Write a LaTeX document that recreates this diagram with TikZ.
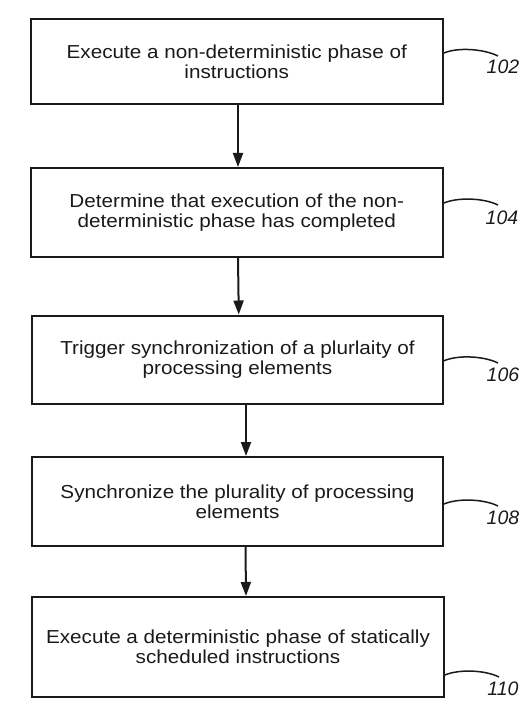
\documentclass[tikz,border=0pt]{standalone}
\usepackage{fontspec}
\newfontfamily\boxfont{Liberation Sans}[FakeStretch=1.1]
\newfontfamily\labfont{Liberation Sans}
\usetikzlibrary{arrows.meta}
\definecolor{ink}{HTML}{1A1A1A}
\tikzset{
  stepbox/.style={draw=ink, line width=2pt, fill=white, inner sep=0pt, align=center,
    text=ink, font=\boxfont\fontsize{18.8}{20}\selectfont},
  flow/.style={draw=ink, line width=2pt, -{Triangle[length=14pt,width=10pt]}},
  lead/.style={draw=ink, line width=1.5pt},
  reflab/.style={inner sep=0pt, text=ink, font=\labfont\itshape\fontsize{19.5}{20}\selectfont}
}
\begin{document}
\begin{tikzpicture}[x=1pt,y=-1pt]
\useasboundingbox (0,0) rectangle (531,722);
\node[stepbox, minimum width=412.5pt, minimum height=85pt] (b1) at (236.75,61.5)
  {Execute a non-deterministic phase of\\instructions};
\node[stepbox, minimum width=412.5pt, minimum height=89pt] (b2) at (236.75,212.5)
  {Determine that execution of the non-\\deterministic phase has completed};
\node[stepbox, minimum width=411pt, minimum height=88.5pt] (b3) at (237.5,359.75)
  {Trigger synchronization of a plurlaity of\\processing elements};
\node[stepbox, minimum width=411pt, minimum height=89pt] (b4) at (237.5,501.5)
  {Synchronize the plurality of processing\\elements};
\node[stepbox, minimum width=412pt, minimum height=100pt] (b5) at (238,647)
  {Execute a deterministic phase of statically\\scheduled instructions};

\draw[flow] ([xshift=1.25pt]b1.south) -- ([xshift=1.25pt]b2.north);
\draw[flow] ([xshift=1.25pt]b2.south) -- ([xshift=1.25pt]b3.north);
\draw[flow] ([xshift=8.5pt]b3.south) -- ([xshift=8.5pt]b4.north);
\draw[flow] ([xshift=8pt]b4.south) -- ([xshift=8pt]b5.north);

\node[reflab] (l1) at (503,67) {102};
\node[reflab] (l2) at (502,218) {104};
\node[reflab] (l3) at (503,375) {106};
\node[reflab] (l4) at (503,518) {108};
\node[reflab] (l5) at (503,689) {110};

\coordinate (e1) at (498,56);
\coordinate (e2) at (498,205);
\coordinate (e3) at (498,363);
\coordinate (e4) at (498,506);
\coordinate (e5) at (499,677);

\draw[lead] ([yshift=8.5pt]b1.east) .. controls +(14,-6) and +(-14,-7) .. (e1);
\draw[lead] ([yshift=9.5pt]b2.east) .. controls +(14,-6) and +(-14,-7) .. (e2);
\draw[lead] ([yshift=-1pt]b3.east) .. controls +(14,-6) and +(-14,-7) .. (e3);
\draw[lead] ([yshift=-2.5pt]b4.east) .. controls +(14,-6) and +(-14,-7) .. (e4);
\draw[lead] ([yshift=-28pt]b5.east) .. controls +(14,-6) and +(-14,-7) .. (e5);
\end{tikzpicture}
\end{document}
